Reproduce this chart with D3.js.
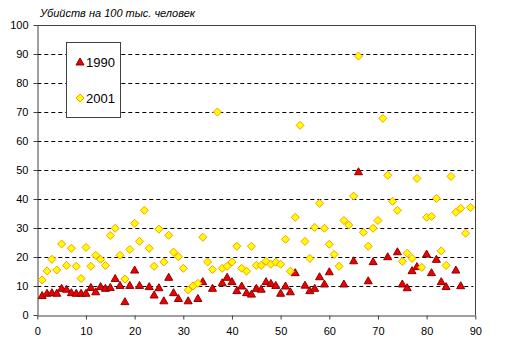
<!DOCTYPE html>
<html><head><meta charset="utf-8">
<script src="https://cdn.jsdelivr.net/npm/d3@7/dist/d3.min.js"></script>
<style>
html,body{margin:0;padding:0;background:#fff;}
svg{display:block;font-family:Arial,"Liberation Sans",sans-serif;}
</style></head>
<body>
<svg id="chart" width="512" height="358"></svg>
<script>
const title = "Убийств на 100 тыс. человек";
const seriesNames = ["1990", "2001"];
const xTicks = [0,10,20,30,40,50,60,70,80,90];
const yTicks = [0,10,20,30,40,50,60,70,80,90,100];
// index 1..89 (null = no data)
const values1990 = [6.7,7.5,7.7,7.5,9.2,8.9,7.7,7.5,7.5,7.5,
  9.5,8.0,9.8,9.2,9.5,12.6,10.2,4.6,10.2,15.5,
  10.2,null,9.8,6.9,9.4,4.9,13.0,7.7,5.7,null,
  4.9,null,5.7,11.5,null,9.2,null,11.1,13.0,11.5,
  8.4,10.0,7.7,7.2,9.2,8.9,11.5,10.9,10.2,7.5,
  10.0,8.0,14.6,null,10.3,8.4,9.2,13.2,10.7,14.9,
  null,null,10.7,null,18.7,49.4,null,11.8,18.4,null,
  null,20.1,null,21.8,10.7,9.4,15.3,16.7,null,21.0,
  14.6,19.2,11.5,9.8,null,15.5,10.1,null,null];
const values2001 = [12.1,15.2,19.2,15.5,24.5,17.1,23.0,16.8,12.6,23.3,
  16.8,20.6,19.2,17.1,27.4,29.9,20.6,12.4,22.6,31.6,
  25.4,36.1,23.0,16.8,29.6,18.3,27.5,21.7,20.1,16.1,
  8.6,10.0,10.9,26.8,18.3,15.7,70.0,16.1,16.8,18.3,
  23.7,16.1,15.1,23.7,17.1,17.1,18.5,17.5,18.2,17.5,
  26.1,15.1,33.7,65.4,25.4,19.5,30.2,38.5,29.9,24.4,
  20.9,16.8,32.6,31.0,41.0,89.3,28.5,23.7,29.9,32.6,
  67.8,48.2,39.2,36.1,18.5,21.3,19.5,47.1,16.4,33.7,
  34.0,40.2,22.1,17.1,47.8,35.4,36.8,28.2,37.1];

const svg = d3.select("#chart");
const L = 37.3, R = 475.3, T = 25, B = 315;
const x = d3.scaleLinear().domain([0,90]).range([L,R]);
const y = d3.scaleLinear().domain([0,100]).range([B,T]);
const axisColor = "#404040";

// gridlines
svg.append("g").selectAll("line").data(yTicks.filter(d => d > 0 && d < 100)).join("line")
  .attr("x1", L).attr("x2", R - 2).attr("y1", d => Math.round(y(d)) + 0.5).attr("y2", d => Math.round(y(d)) + 0.5)
  .attr("stroke", "#000").attr("stroke-width", 1).attr("stroke-dasharray", "4,3");

// plot border (top, right)
svg.append("path")
  .attr("d", `M${L},${T + 0.5}H${Math.round(R) + 0.5}V${B}`)
  .attr("fill", "none").attr("stroke", axisColor);

// axes
const xAxis = svg.append("g").attr("transform", `translate(0,${B + 0.5})`)
  .call(d3.axisBottom(x).tickValues(xTicks).tickSize(4).tickSizeOuter(0).tickFormat(d3.format("d")));
const yAxis = svg.append("g").attr("transform", `translate(${Math.round(L) + 0.5},0)`)
  .call(d3.axisLeft(y).tickValues(yTicks).tickSize(4).tickSizeOuter(0).tickFormat(d3.format("d")));
[xAxis, yAxis].forEach(g => {
  g.select(".domain").attr("stroke", axisColor);
  g.selectAll(".tick line").attr("stroke", axisColor);
  g.selectAll(".tick text").attr("fill", "#000").attr("font-size", "11px")
    .attr("font-family", "Arial, 'Liberation Sans', sans-serif");
});
xAxis.selectAll(".tick text").attr("dy", "0.71em").attr("y", 12);
yAxis.selectAll(".tick text").attr("x", -9);

// markers
const triPath = "M0,-4L4,3L-4,3Z";
const diaPath = "M0,-4L4,0L0,4L-4,0Z";
const pts1990 = values1990.map((v,i) => ({x: i+1, v})).filter(d => d.v != null);
const pts2001 = values2001.map((v,i) => ({x: i+1, v})).filter(d => d.v != null);

svg.append("g").selectAll("path").data(pts1990).join("path")
  .attr("d", triPath)
  .attr("transform", d => `translate(${x(d.x)},${y(d.v)})`)
  .attr("fill", "#ee0000").attr("stroke", "#8b0000").attr("stroke-width", 1);

svg.append("g").selectAll("path").data(pts2001).join("path")
  .attr("d", diaPath)
  .attr("transform", d => `translate(${x(d.x)},${y(d.v)})`)
  .attr("fill", "#ffff00").attr("stroke", "#ff9900").attr("stroke-width", 1);

// title
svg.append("text").attr("x", 40).attr("y", 17)
  .attr("font-size", "11px").attr("font-style", "italic").attr("fill", "#000")
  .text(title);

// legend
const lg = svg.append("g");
lg.append("rect").attr("x", 66.5).attr("y", 42.5).attr("width", 54).attr("height", 75)
  .attr("fill", "#fff").attr("stroke", axisColor);
const legendItems = [{name: seriesNames[0], path: triPath, fill: "#ee0000", stroke: "#8b0000", cy: 62},
                     {name: seriesNames[1], path: diaPath, fill: "#ffff00", stroke: "#ff9900", cy: 98}];
legendItems.forEach(it => {
  lg.append("path").attr("d", it.path).attr("transform", `translate(80,${it.cy})`)
    .attr("fill", it.fill).attr("stroke", it.stroke);
  lg.append("text").attr("x", 86).attr("y", it.cy + 4.5).attr("font-size", "13px").attr("fill", "#000")
    .text(it.name);
});
</script>
</body></html>
